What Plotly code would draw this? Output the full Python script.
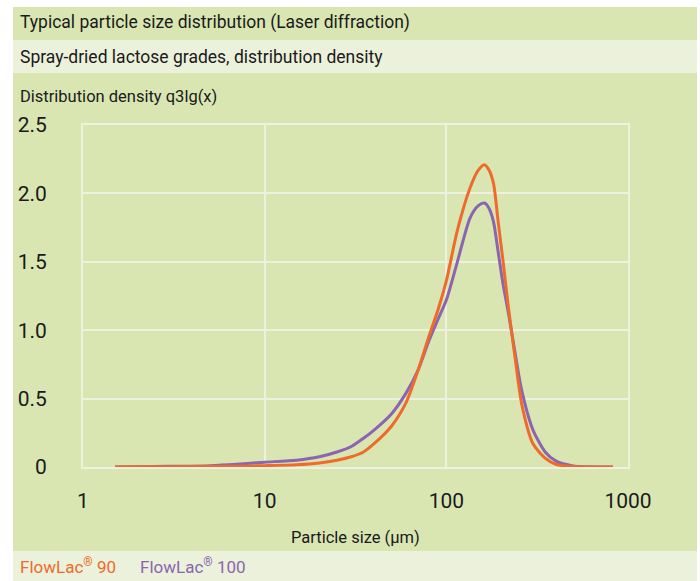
import plotly.graph_objects as go

# Particle size (µm)
sizes = [1.5, 2, 3, 5, 7, 10, 15, 20, 25, 30, 35, 40, 50, 60, 70, 80, 90, 100,
         115, 135, 150, 162, 172, 182, 193, 205, 220, 240, 260, 300, 350, 400, 500, 600, 826]
flowlac90 = [0, 0.001, 0.002, 0.004, 0.006, 0.01, 0.017, 0.03, 0.05, 0.075, 0.11, 0.17,
             0.30, 0.47, 0.71, 0.95, 1.15, 1.36, 1.73, 2.04, 2.17, 2.21, 2.17, 2.07, 1.79,
             1.51, 1.16, 0.78, 0.46, 0.17, 0.065, 0.02, 0.003, 0, 0]
flowlac100 = [0, 0.002, 0.005, 0.01, 0.02, 0.035, 0.05, 0.075, 0.11, 0.15, 0.21, 0.27,
              0.39, 0.54, 0.71, 0.92, 1.08, 1.22, 1.50, 1.82, 1.91, 1.93, 1.89, 1.79, 1.57,
              1.34, 1.12, 0.82, 0.56, 0.27, 0.11, 0.045, 0.008, 0.002, 0]

x_ticks = [1, 10, 100, 1000]
x_ticktext = ["1", "10", "100", "1000"]
y_ticks = [0, 0.5, 1.0, 1.5, 2.0, 2.5]
y_ticktext = ["0", "0.5", "1.0", "1.5", "2.0", "2.5"]

ORANGE = "#EE6B2C"
PURPLE = "#8A65B0"
GREEN = "#D9E6B2"
LIGHT = "#EBF1DB"
GRID = "#EEF1DE"
INK = "#1a1a1a"
FAMILY = "Roboto"


def F(size, color=INK):
    return dict(family=FAMILY, size=size, color=color)


W, H = 700, 581
L, R, T, B = 83, 628, 125, 467  # plot area in pixels


def px(xp):
    return (xp - L) / (R - L)


def py(yp):
    return (B - yp) / (B - T)


fig = go.Figure()
fig.add_trace(go.Scatter(x=sizes, y=flowlac100, mode="lines",
                         line=dict(color=PURPLE, width=3, shape="spline", smoothing=0.7),
                         name="FlowLac® 100", showlegend=False))
fig.add_trace(go.Scatter(x=sizes, y=flowlac90, mode="lines",
                         line=dict(color=ORANGE, width=3, shape="spline", smoothing=0.7),
                         name="FlowLac® 90", showlegend=False))

shapes = [
    dict(type="rect", xref="paper", yref="paper", x0=px(13), x1=px(697), y0=py(581), y1=py(7),
         fillcolor=GREEN, line=dict(width=0), layer="below"),
    dict(type="rect", xref="paper", yref="paper", x0=px(13), x1=px(697), y0=py(73), y1=py(40),
         fillcolor=LIGHT, line=dict(width=0), layer="below"),
    dict(type="rect", xref="paper", yref="paper", x0=px(13), x1=px(697), y0=py(581), y1=py(551),
         fillcolor=LIGHT, line=dict(width=0), layer="below"),
]

annotations = [
    dict(text="Typical particle size distribution (Laser diffraction)", x=px(18), y=py(23), font=F(17.5)),
    dict(text="Spray-dried lactose grades, distribution density", x=px(18), y=py(57), font=F(17.5)),
    dict(text="Distribution density q3lg(x)", x=px(18), y=py(97), font=F(16.5)),
    dict(text="FlowLac<sup>®</sup> 90", x=px(18), y=py(566), font=F(17, ORANGE)),
    dict(text="FlowLac<sup>®</sup> 100", x=px(138), y=py(566), font=F(17, PURPLE)),
    dict(text="Particle size (µm)", x=0.5, y=py(537), xanchor="center", font=F(16.5)),
]
for a in annotations:
    a.setdefault("xanchor", "left")
    a.update(xref="paper", yref="paper", yanchor="middle", showarrow=False)

fig.update_layout(
    width=W, height=H,
    margin=dict(l=L, r=W - R, t=T, b=H - B, pad=0, autoexpand=False),
    paper_bgcolor="white", plot_bgcolor=GREEN,
    font=F(19),
    shapes=shapes, annotations=annotations,
    xaxis=dict(type="log", range=[0, 3], tickvals=x_ticks, ticktext=x_ticktext,
               showgrid=True, gridcolor=GRID, gridwidth=2, zeroline=False,
               showline=True, linecolor=GRID, linewidth=2, mirror=True, automargin=False,
               ticks="", tickfont=F(21), ticklabelstandoff=14),
    yaxis=dict(range=[0, 2.5], tickvals=y_ticks, ticktext=y_ticktext,
               showgrid=True, gridcolor=GRID, gridwidth=2, zeroline=False,
               showline=True, linecolor=GRID, linewidth=2, mirror=True, automargin=False,
               ticks="", tickfont=F(21), ticklabelstandoff=30),
)

post = "document.body.style.margin='0';document.body.style.overflow='hidden';"
fig.write_html("out.html", post_script=post, config={"displayModeBar": False})
